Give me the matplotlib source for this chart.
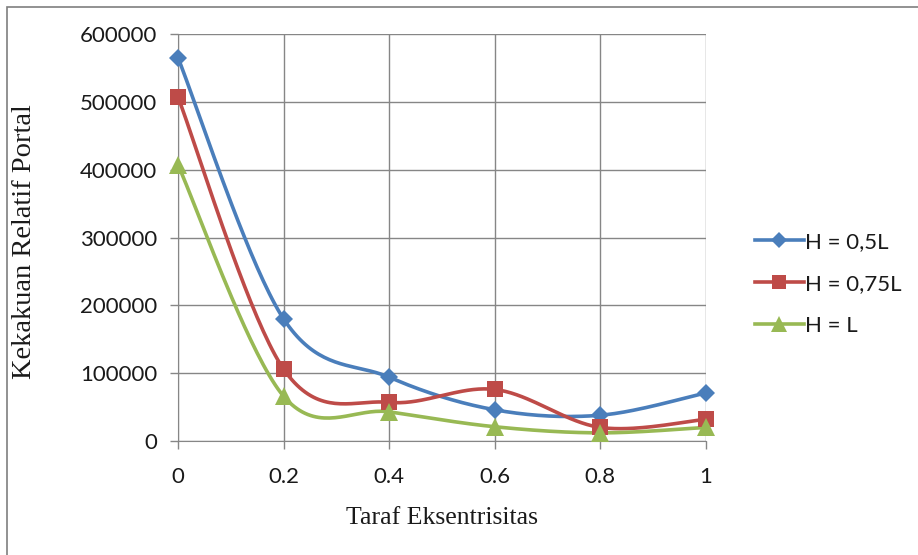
import matplotlib
matplotlib.use('Agg')
import matplotlib.pyplot as plt
import numpy as np
from matplotlib.patches import Rectangle

# Data
eccentricity = [0, 0.2, 0.4, 0.6, 0.8, 1]
h_05L = [565000, 180000, 94000, 46000, 38000, 71000]
h_075L = [507000, 106000, 57000, 76000, 20000, 32000]
h_L = [407000, 66000, 43000, 21000, 12000, 20000]
labels = ['H = 0,5L', 'H = 0,75L', 'H = L']


def smooth(xs, ys, n=40):
    # Excel-like smoothing: Catmull-Rom via cubic Bezier segments
    xs = np.asarray(xs, float)
    ys = np.asarray(ys, float)
    px = np.concatenate([[xs[0]], xs, [xs[-1]]])
    py = np.concatenate([[ys[0]], ys, [ys[-1]]])
    out_x, out_y = [], []
    t = np.linspace(0, 1, n)
    for i in range(1, len(px) - 2):
        p0 = np.array([px[i], py[i]])
        p3 = np.array([px[i + 1], py[i + 1]])
        c1 = p0 + (p3 - np.array([px[i - 1], py[i - 1]])) / 6.0
        c2 = p3 - (np.array([px[i + 2], py[i + 2]]) - p0) / 6.0
        b = ((1 - t) ** 3)[:, None] * p0 + (3 * (1 - t) ** 2 * t)[:, None] * c1 \
            + (3 * (1 - t) * t ** 2)[:, None] * c2 + (t ** 3)[:, None] * p3
        out_x.extend(b[:, 0])
        out_y.extend(b[:, 1])
    return out_x, out_y


fig = plt.figure(figsize=(9.18, 5.55), dpi=100)
W, H = 918., 555.
ax = fig.add_axes([178 / W, 1 - 441 / H, (706 - 178) / W, (441 - 34) / H])

# outer chart border (right/bottom cut off in the reference)
fig.patches.append(Rectangle((7 / W, -0.05), 1.0, 1 - 7 / H + 0.05, transform=fig.transFigure,
                             fill=False, edgecolor='#7f7f7f', lw=1.2))

series = [
    (h_05L, 'D', '#4A7EBB', 9, labels[0]),
    (h_075L, 's', '#BE4B48', 12, labels[1]),
    (h_L, '^', '#98B954', 13, labels[2]),
]
for ys, marker, color, ms, label in series:
    sx, sy = smooth(eccentricity, ys)
    ax.plot(sx, sy, color=color, lw=2.6, zorder=3, clip_on=False)
    ax.plot(eccentricity, ys, linestyle='none', marker=marker, ms=ms, color=color,
            markeredgewidth=0, zorder=4, clip_on=False)
    ax.plot([], [], color=color, lw=2.6, marker=marker, ms=ms * 0.85, markeredgewidth=0, label=label)

ax.set_xlim(0, 1)
ax.set_ylim(0, 600000)
ax.set_xticks(eccentricity)
ax.set_xticklabels(['0', '0.2', '0.4', '0.6', '0.8', '1'])
ax.set_yticks(range(0, 600001, 100000))
ax.grid(True, color='#868686', lw=1.0)
ax.set_axisbelow(True)
for s in ['top', 'right']:
    ax.spines[s].set_visible(False)
for s in ['left', 'bottom']:
    ax.spines[s].set_color('#868686')
ax.tick_params(axis='both', colors='#868686', length=6, width=1.0, labelsize=16,
               labelcolor='#1a1a1a', direction='out', pad=9)
ax.tick_params(axis='x', pad=13)
for lab in ax.get_xticklabels() + ax.get_yticklabels():
    lab.set_family('Lato')

fig.text(25 / W, 1 - 242 / H, 'Kekakuan Relatif Portal', rotation=90, ha='center', va='center',
         family='Liberation Serif', fontsize=20.5, color='#1a1a1a')
fig.text(442 / W, 1 - 524 / H, 'Taraf Eksentrisitas', ha='center', va='baseline',
         family='Liberation Serif', fontsize=18.5, color='#1a1a1a')

leg = fig.legend(loc='center left', bbox_to_anchor=(746 / W, 1 - 284 / H), frameon=False,
                 prop={'family': 'Lato', 'size': 16}, handlelength=2.2, handletextpad=0.05,
                 labelspacing=1.0, borderaxespad=0)
for t in leg.get_texts():
    t.set_color('#1a1a1a')

fig.savefig('out.png', dpi=100)
